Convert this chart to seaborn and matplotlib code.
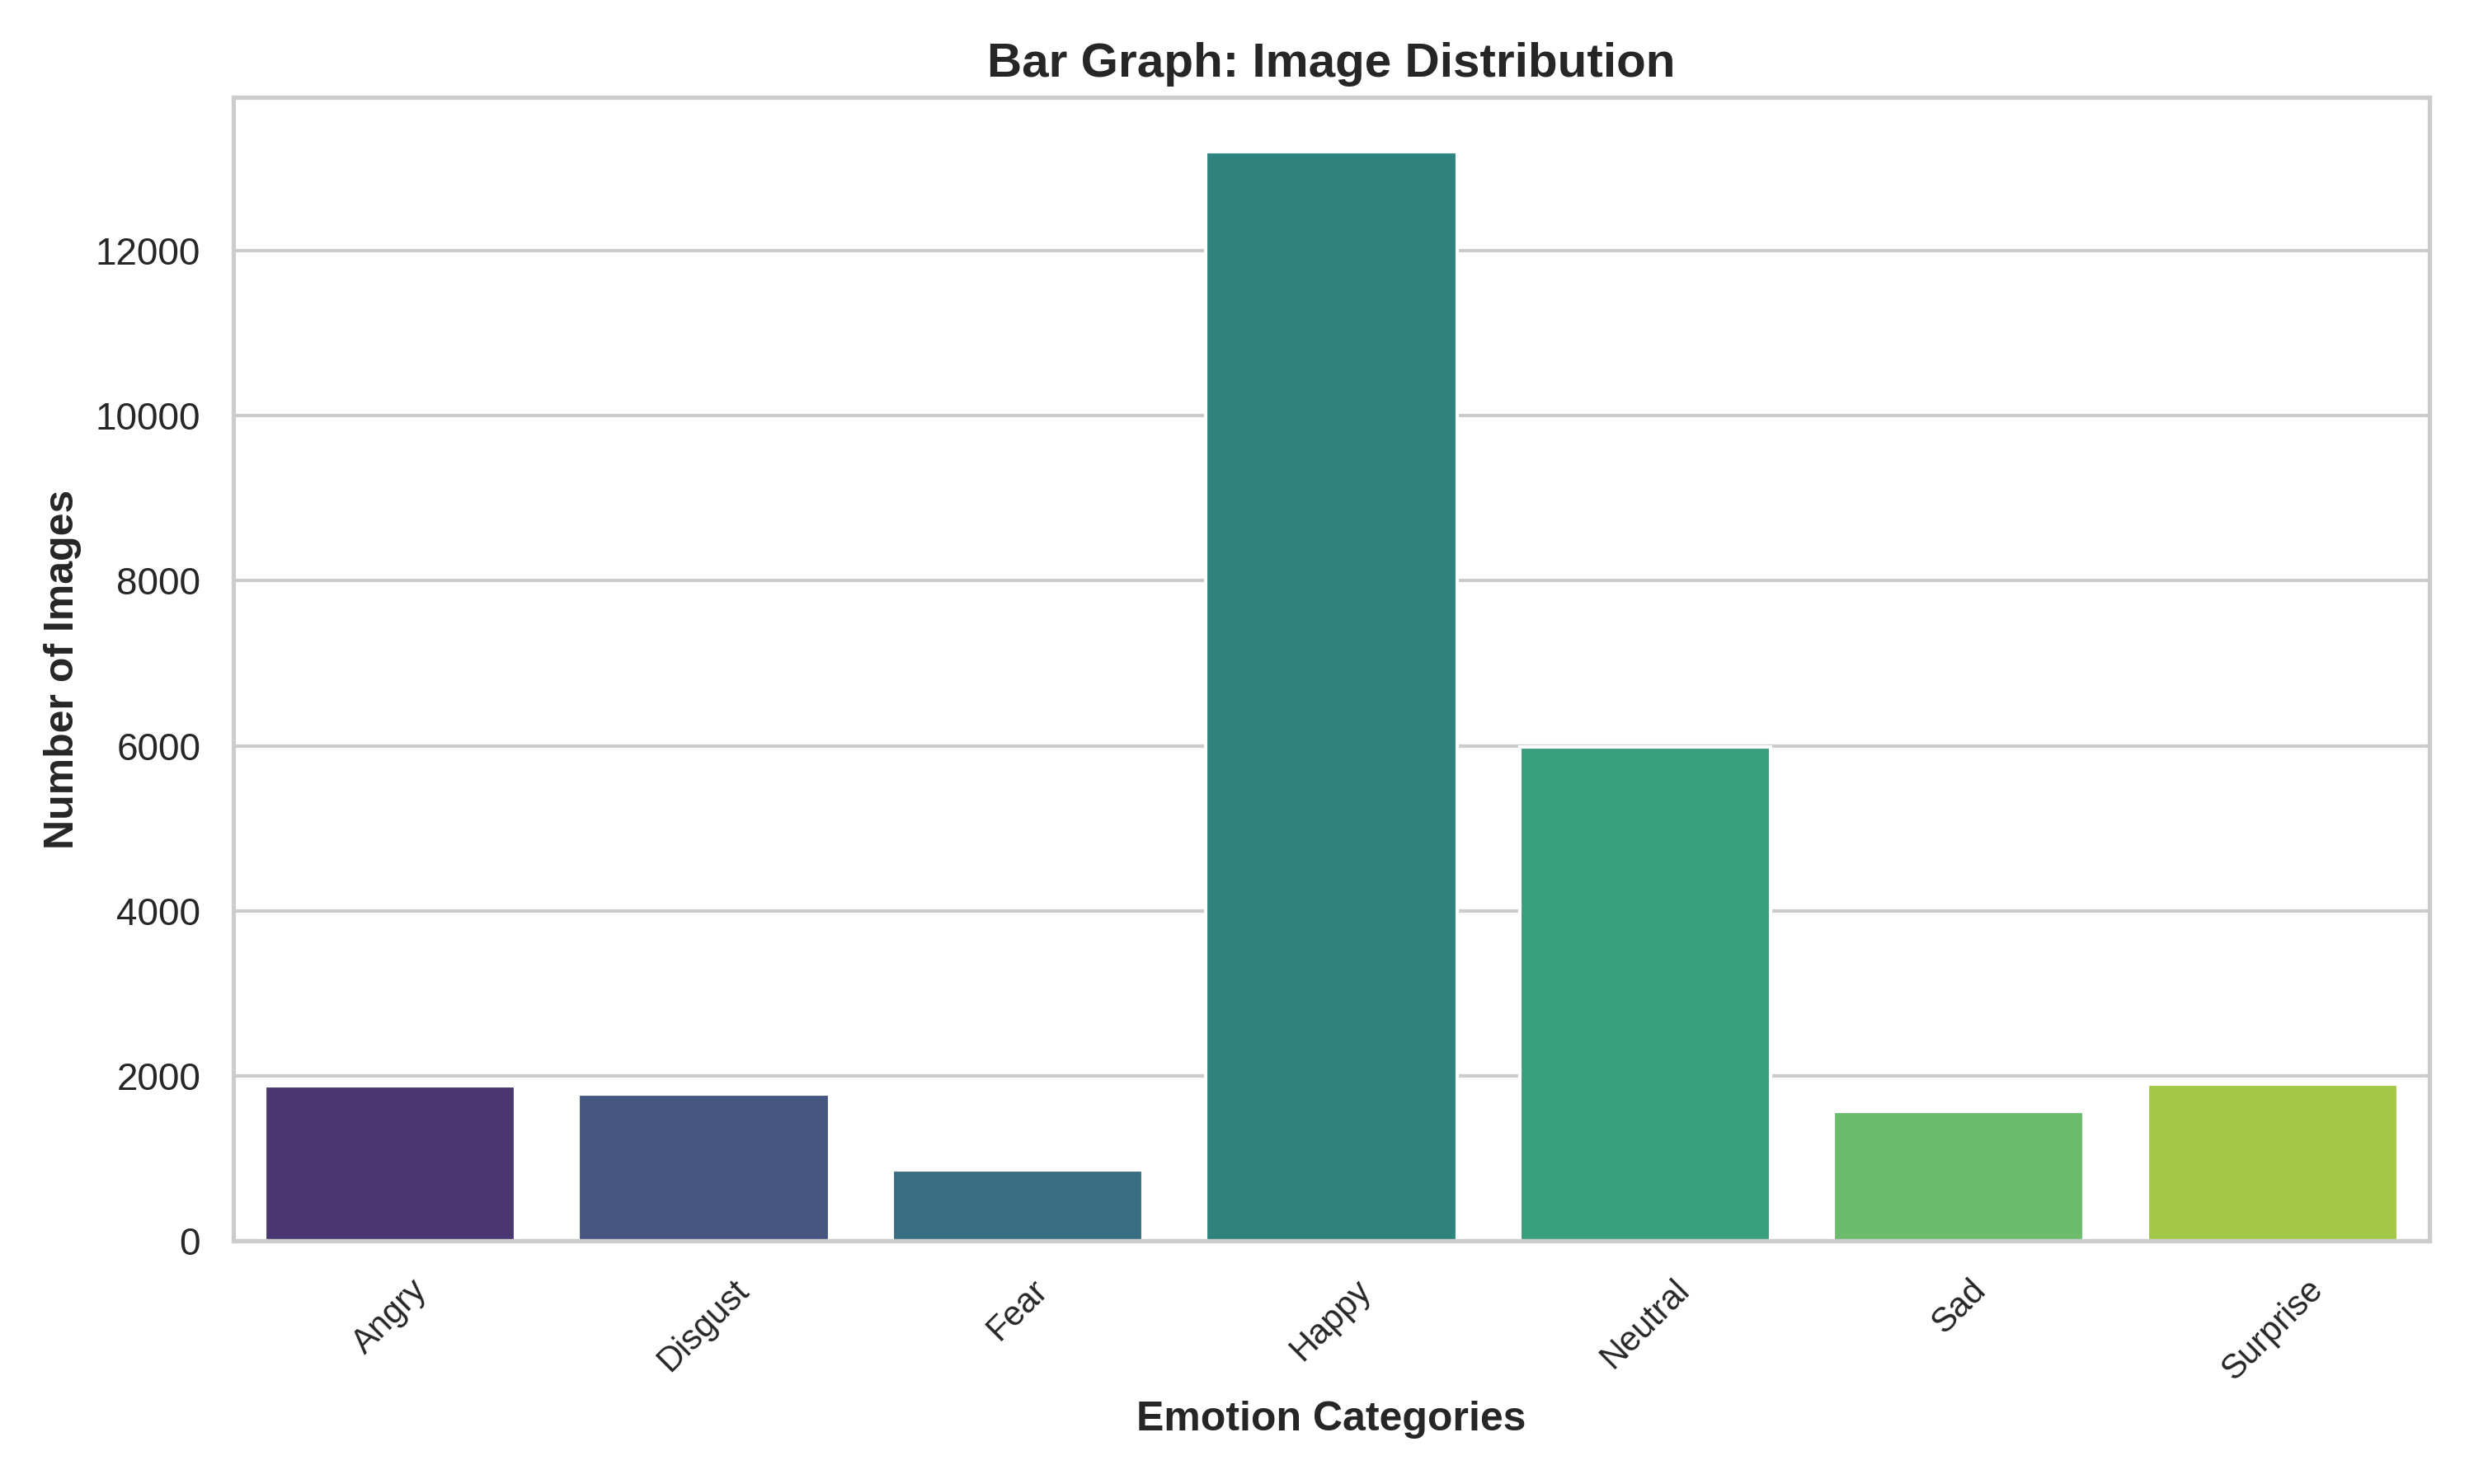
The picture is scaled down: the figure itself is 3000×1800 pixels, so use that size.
import matplotlib
matplotlib.use("Agg")
import matplotlib.pyplot as plt
import seaborn as sns
import pandas as pd

emotions = ['Angry', 'Disgust', 'Fear', 'Happy', 'Neutral', 'Sad', 'Surprise']
counts = [1875, 1780, 860, 13200, 5990, 1565, 1900]

df = pd.DataFrame({'Emotion': emotions, 'Count': counts})

sns.set_theme(style='whitegrid')
plt.rcParams['font.family'] = ['Arial', 'Liberation Sans', 'DejaVu Sans']

fig, ax = plt.subplots(figsize=(10, 6))
sns.barplot(data=df, x='Emotion', y='Count', hue='Emotion', palette='viridis',
            legend=False, ax=ax)

ax.set_title('Bar Graph: Image Distribution', fontsize=14, fontweight='bold')
ax.set_xlabel('Emotion Categories', fontsize=12, fontweight='bold')
ax.set_ylabel('Number of Images', fontsize=12, fontweight='bold')
plt.xticks(rotation=45, fontsize=10)

plt.tight_layout()
plt.savefig('out.png', dpi=300)
